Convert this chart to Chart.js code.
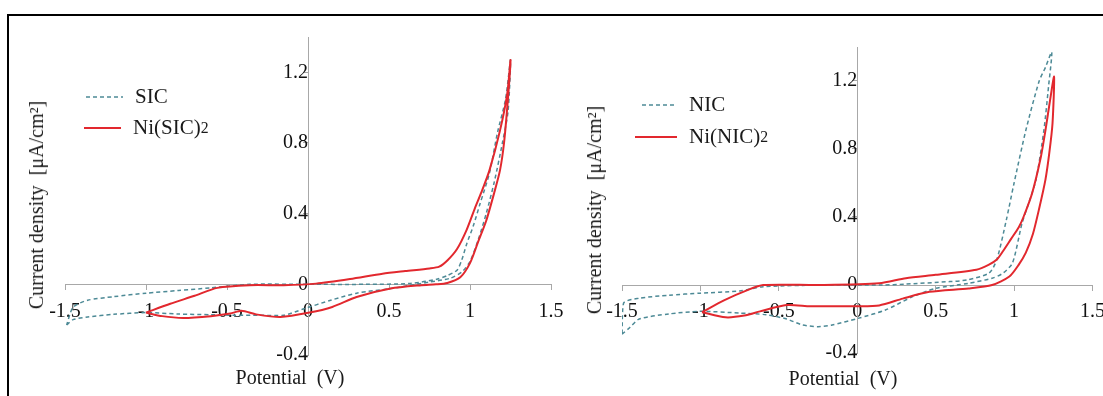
<!DOCTYPE html>
<html>
<head>
<meta charset="utf-8">
<script src="https://cdn.jsdelivr.net/npm/chart.js@4.4.0/dist/chart.umd.min.js"></script>
<style>
  html, body { margin: 0; padding: 0; width: 1103px; height: 396px; overflow: hidden; background: #fff; }
  body { position: relative; font-family: "Liberation Serif", "Times New Roman", serif; color: #1a1a1a; }
  #frame { position: absolute; left: 7px; top: 14px; width: 1200px; height: 500px; border-top: 2px solid #000; border-left: 2px solid #000; }
  canvas { position: absolute; top: 0; }
  #left { left: 0; }
  #right { left: 575px; }
  .t { position: absolute; white-space: nowrap; line-height: 1; font-size: 20px; }
  .ytitle { transform: translate(-50%, -50%) rotate(-90deg); }
  .xtitle { transform: translate(-50%, -50%); }
  .leg { position: absolute; display: flex; align-items: center; font-size: 21px; line-height: 1; white-space: nowrap; }
  .leg svg { margin-right: 12px; }
  sub { font-size: 0.75em; vertical-align: -0.25em; }
</style>
</head>
<body>
<div id="frame"></div>
<canvas id="left" width="580" height="396"></canvas>
<canvas id="right" width="540" height="396"></canvas>

<div class="t ytitle" style="left:36px; top:205px;">Current density&nbsp; [μA/cm²]</div>
<div class="t xtitle" style="left:290px; top:377px;">Potential&nbsp; (V)</div>
<div class="t ytitle" style="left:594px; top:210px;">Current density&nbsp; [μA/cm²]</div>
<div class="t xtitle" style="left:843px; top:378px;">Potential&nbsp; (V)</div>

<div class="leg" style="left:86px; top:86px;"><svg width="37" height="4"><line x1="0" y1="2" x2="37" y2="2" stroke="#4d8a96" stroke-width="1.5" stroke-dasharray="4 3"/></svg>SIC</div>
<div class="leg" style="left:84px; top:117px;"><svg width="37" height="4"><line x1="0" y1="2" x2="37" y2="2" stroke="#e2282e" stroke-width="2"/></svg>Ni(SIC)<sub>2</sub></div>
<div class="leg" style="left:642px; top:94px;"><svg width="35" height="4"><line x1="0" y1="2" x2="35" y2="2" stroke="#4d8a96" stroke-width="1.5" stroke-dasharray="4 3"/></svg>NIC</div>
<div class="leg" style="left:635px; top:126px;"><svg width="42" height="4"><line x1="0" y1="2" x2="42" y2="2" stroke="#e2282e" stroke-width="2"/></svg>Ni(NIC)<sub>2</sub></div>

<script>
// tick positions
const xTicks = [-1.5, -1, -0.5, 0, 0.5, 1, 1.5];
const yTicks = [-0.4, 0, 0.4, 0.8, 1.2];

// left panel: SIC (dashed)
const sicX = [-1.49, -1.45, -1.36, -1.2, -1.0, -0.8, -0.6, -0.45, -0.3, -0.15, -0.03, 0.14, 0.3, 0.51, 0.75, 0.88, 0.95, 1.0, 1.05, 1.1, 1.15, 1.2, 1.235, 1.25,
              1.22, 1.17, 1.12, 1.06, 1.02, 0.98, 0.95, 0.92, 0.86, 0.8, 0.63, 0.36, 0.0, -0.36, -0.6, -0.8, -1.0, -1.2, -1.36, -1.45, -1.49];
const sicY = [-0.23, -0.2, -0.185, -0.17, -0.16, -0.168, -0.172, -0.175, -0.175, -0.175, -0.14, -0.09, -0.05, -0.024, 0.013, 0.035, 0.07, 0.13, 0.25, 0.4, 0.58, 0.8, 0.98, 1.27,
              1.05, 0.86, 0.63, 0.45, 0.33, 0.23, 0.14, 0.08, 0.05, 0.03, 0.005, 0.0, 0.0, 0.0, -0.02, -0.035, -0.05, -0.07, -0.09, -0.13, -0.23];

// left panel: Ni(SIC)2 (solid red)
const niSicX = [-1.0, -0.9, -0.77, -0.6, -0.48, -0.41, -0.32, -0.17, 0.01, 0.15, 0.3, 0.51, 0.7, 0.79, 0.86, 0.94, 1.0, 1.05, 1.1, 1.15, 1.185, 1.21, 1.235, 1.25,
                1.23, 1.185, 1.12, 1.07, 1.03, 0.98, 0.92, 0.86, 0.81, 0.75, 0.6, 0.46, 0.26, 0.05, -0.15, -0.36, -0.56, -0.7, -0.85, -1.0];
const niSicY = [-0.16, -0.18, -0.19, -0.18, -0.165, -0.15, -0.17, -0.185, -0.16, -0.128, -0.072, -0.024, -0.005, 0.0, 0.008, 0.04, 0.12, 0.24, 0.36, 0.52, 0.645, 0.8, 1.06, 1.27,
                1.08, 0.87, 0.645, 0.52, 0.43, 0.31, 0.2, 0.135, 0.1, 0.09, 0.075, 0.06, 0.03, 0.004, -0.005, -0.005, -0.02, -0.065, -0.11, -0.16];

// right panel: NIC (dashed)
const nicX = [-1.5, -1.45, -1.39, -1.2, -1.0, -0.75, -0.58, -0.45, -0.35, -0.25, -0.16, 0.01, 0.18, 0.35, 0.5, 0.71, 0.86, 0.93, 0.99, 1.05, 1.1, 1.14, 1.19, 1.22, 1.24,
              1.2, 1.16, 1.075, 1.0, 0.95, 0.89, 0.84, 0.7, 0.59, 0.3, 0.16, -0.2, -0.6, -0.75, -1.0, -1.2, -1.39, -1.49, -1.5];
const nicY = [-0.29, -0.25, -0.2, -0.17, -0.155, -0.165, -0.175, -0.2, -0.235, -0.245, -0.235, -0.195, -0.147, -0.07, -0.02, 0.01, 0.04, 0.07, 0.13, 0.36, 0.5, 0.62, 0.91, 1.17, 1.37,
              1.28, 1.2, 0.91, 0.6, 0.38, 0.15, 0.07, 0.03, 0.02, 0.005, 0.0, 0.0, -0.01, -0.035, -0.048, -0.06, -0.078, -0.107, -0.29];

// right panel: Ni(NIC)2 (solid red)
const niNicX = [-0.99, -0.84, -0.72, -0.62, -0.45, -0.3, -0.16, 0.0, 0.14, 0.29, 0.46, 0.71, 0.86, 0.97, 1.03, 1.075, 1.12, 1.16, 1.2, 1.225, 1.245, 1.255,
                1.23, 1.2, 1.17, 1.115, 1.06, 1.03, 0.98, 0.93, 0.89, 0.84, 0.76, 0.5, 0.31, 0.14, -0.24, -0.6, -0.7, -0.85, -0.99];
const niNicY = [-0.16, -0.19, -0.18, -0.155, -0.118, -0.125, -0.125, -0.125, -0.12, -0.08, -0.04, -0.02, 0.0, 0.05, 0.12, 0.19, 0.3, 0.45, 0.62, 0.78, 0.95, 1.225,
                1.09, 0.91, 0.75, 0.54, 0.4, 0.34, 0.27, 0.2, 0.15, 0.12, 0.09, 0.06, 0.04, 0.01, 0.0, 0.0, -0.03, -0.09, -0.16];

const axisGrey = '#a8a8a8';
const red = '#e2282e';
const teal = '#4d8a96';
const tickFont = { family: 'Liberation Serif', size: 20 };

function pts(xs, ys) {
  return xs.map((x, i) => ({ x: x, y: ys[i] }));
}

function dashed(xs, ys) {
  return { data: pts(xs, ys), showLine: true, borderColor: teal, borderWidth: 1.5, borderDash: [4, 3], pointRadius: 0, fill: false, order: 2 };
}
function solid(xs, ys) {
  return { data: pts(xs, ys), showLine: true, borderColor: red, borderWidth: 2, pointRadius: 0, fill: false, order: 1 };
}

function makeChart(id, datasets, pad) {
  return new Chart(document.getElementById(id), {
    type: 'scatter',
    data: { datasets: datasets },
    options: {
      responsive: false,
      animation: false,
      layout: { padding: pad },
      plugins: { legend: { display: false }, tooltip: { enabled: false } },
      elements: { line: { tension: 0.25 } },
      scales: {
        x: {
          type: 'linear', min: -1.5, max: 1.5,
          position: { y: 0 },
          afterBuildTicks: s => { s.ticks = xTicks.map(v => ({ value: v })); },
          grid: { drawOnChartArea: false, tickLength: 5, color: axisGrey },
          border: { color: axisGrey },
          ticks: { padding: 10, color: '#111', font: tickFont, maxRotation: 0, autoSkip: false, callback: v => String(v) }
        },
        y: {
          type: 'linear', min: -0.4, max: 1.4,
          position: { x: 0 },
          afterBuildTicks: s => { s.ticks = yTicks.map(v => ({ value: v })); },
          grid: { drawOnChartArea: false, tickLength: 5, color: axisGrey },
          border: { color: axisGrey },
          ticks: { padding: 14, color: '#111', font: tickFont, autoSkip: false, callback: v => String(v) }
        }
      }
    }
  });
}

makeChart('left', [dashed(sicX, sicY), solid(niSicX, niSicY)], { left: 65, right: 29, top: 37, bottom: 41 });
makeChart('right', [dashed(nicX, nicY), solid(niNicX, niNicY)], { left: 47, right: 21, top: 47, bottom: 43 });
</script>
</body>
</html>
